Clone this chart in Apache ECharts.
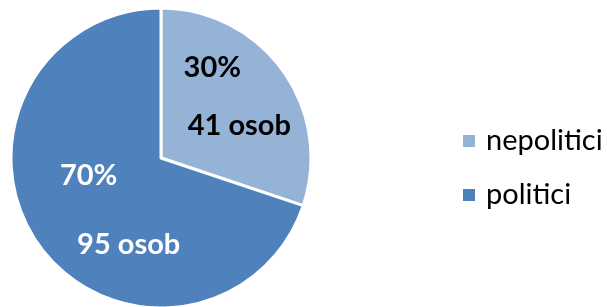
<!DOCTYPE html>
<html>
<head>
<meta charset="utf-8">
<script src="https://cdn.jsdelivr.net/npm/echarts@6/dist/echarts.min.js"></script>
<style>
  html, body { margin: 0; padding: 0; background: #fff; }
  #chart { width: 607px; height: 307px; }
</style>
</head>
<body>
<div id="chart"></div>
<script>
var names = ['nepolitici', 'politici'];
var counts = [41, 95];
var colors = ['#95B3D7', '#4F81BD'];

// label nudges (px) relative to the inside label position of each slice
var pctOffsets = [[-12, -45], [-9, -28]];
var cntOffsets = [[15, 13], [31, 41]];
var labelColors = ['#000', '#fff'];

var myChart = echarts.init(document.getElementById('chart'));

function buildData(offsets, fmt) {
    return names.map(function (n, i) {
        return {
            name: n,
            value: counts[i],
            itemStyle: { color: colors[i] },
            label: { offset: offsets[i], color: labelColors[i], formatter: fmt }
        };
    });
}

var labelFont = { fontFamily: 'Lato', fontWeight: 'bold', fontSize: 29 };

option = {
    animation: false,
    legend: {
        orient: 'vertical',
        left: 456,
        top: 121,
        itemWidth: 14,
        itemHeight: 14,
        itemGap: 24,
        icon: 'rect',
        textStyle: { fontFamily: 'Lato', fontSize: 29, color: '#000', lineHeight: 30, padding: [0, 0, 0, 5] },
        data: names.map(function (n, i) { return { name: n, itemStyle: { color: colors[i] } }; })
    },
    series: [
        {
            name: 'pct',
            type: 'pie',
            radius: 150,
            center: [161, 158],
            startAngle: 90,
            clockwise: true,
            percentPrecision: 0,
            itemStyle: { borderColor: '#fff', borderWidth: 3 },
            label: Object.assign({ show: true, position: 'inside' }, labelFont),
            labelLine: { show: false },
            emphasis: { disabled: true },
            data: buildData(pctOffsets, '{d}%')
        },
        {
            name: 'count',
            type: 'pie',
            radius: 150,
            center: [161, 158],
            startAngle: 90,
            clockwise: true,
            silent: true,
            itemStyle: { color: 'transparent', borderWidth: 0 },
            label: Object.assign({ show: true, position: 'inside' }, labelFont),
            labelLine: { show: false },
            emphasis: { disabled: true },
            data: buildData(cntOffsets, '{c} osob').map(function (d) {
                d.itemStyle = { color: 'transparent' };
                return d;
            })
        }
    ]
};

myChart.setOption(option);
</script>
</body>
</html>
